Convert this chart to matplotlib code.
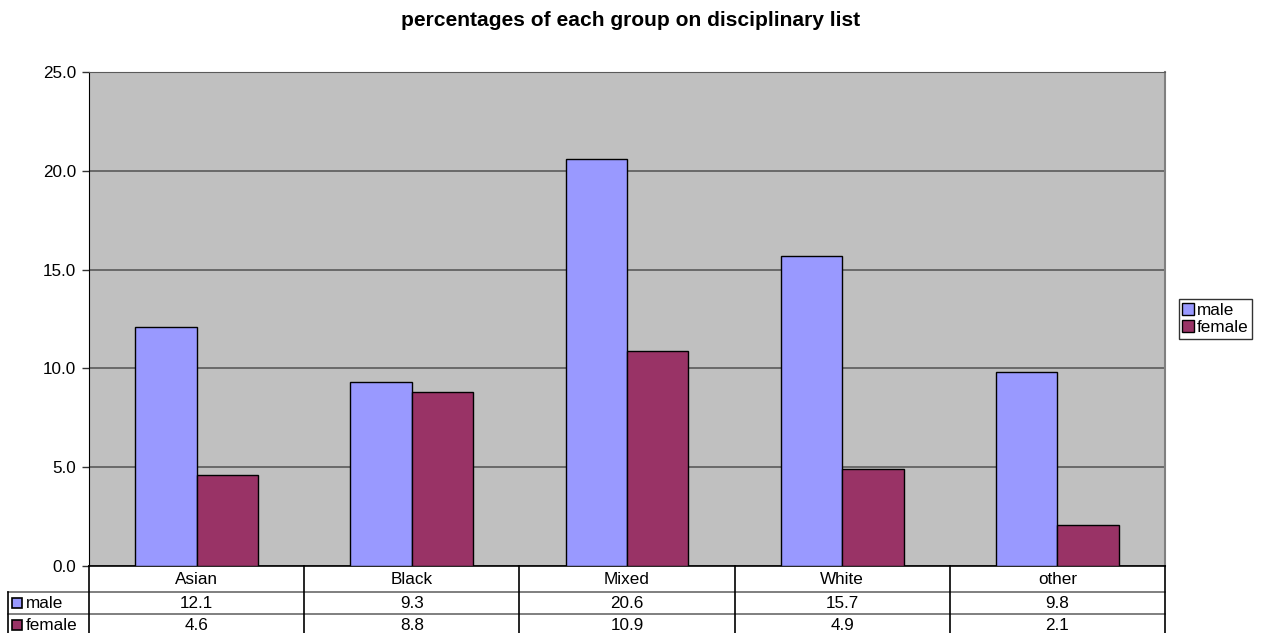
import numpy as np
import matplotlib.pyplot as plt
from matplotlib.patches import Rectangle

plt.rcParams['font.family'] = ['Liberation Sans', 'DejaVu Sans']

groups = ["Asian", "Black", "Mixed", "White", "other"]
male = [12.1, 9.3, 20.6, 15.7, 9.8]
female = [4.6, 8.8, 10.9, 4.9, 2.1]
series = ["male", "female"]
colours = ["#9999FF", "#993366"]

W, H = 1263, 633
fs = 12.3
fig = plt.figure(figsize=(W / 100, H / 100), dpi=100)

# plot area in pixel coords: x 89..1165, y 72..566
ax = fig.add_axes([89 / W, 1 - 566 / H, (1165 - 89) / W, (566 - 72) / H])
ax.set_facecolor("#C0C0C0")
x = np.arange(len(groups))
bw = 0.285
ax.bar(x - bw / 2, male, bw, color=colours[0], edgecolor="black", linewidth=1, zorder=3, label="male")
ax.bar(x + bw / 2, female, bw, color=colours[1], edgecolor="black", linewidth=1, zorder=3, label="female")
ax.set_xlim(-0.5, len(groups) - 0.5)
ax.set_ylim(0, 25)
ax.set_yticks(np.arange(0, 26, 5))
ax.set_yticklabels(["%.1f" % v for v in np.arange(0, 26, 5)], fontsize=fs)
ax.set_xticks([])
ax.yaxis.grid(True, color="#5a5a5a", linewidth=1.2, zorder=1)
ax.set_axisbelow(True)
ax.tick_params(axis="y", length=5, width=1, color="#333333", pad=4)
ax.spines["left"].set_color("black")
ax.spines["bottom"].set_color("black")
ax.spines["bottom"].set_linewidth(1.2)
ax.spines["top"].set_color("#5a5a5a")
ax.spines["right"].set_color("#808080")
ax.spines["right"].set_linewidth(1.5)

fig.text(631 / W, 1 - 20 / H, "percentages of each group on disciplinary list",
         ha="center", va="center", fontsize=15.1, fontweight="bold")

# legend box
leg = ax.legend(loc="center left", bbox_to_anchor=(1179 / W, 1 - 319 / H), bbox_transform=fig.transFigure,
                fontsize=fs, frameon=True, fancybox=False, edgecolor="black", borderpad=0.2,
                handlelength=0.7, handleheight=0.7, handletextpad=0.15, labelspacing=0.15,
                borderaxespad=0)
leg.get_frame().set_linewidth(1)
for p in leg.get_patches():
    p.set_linewidth(1)

# data table under the plot, in pixel coords
tab = fig.add_axes([0, 0, 1, 1], facecolor="none")
tab.set_xlim(0, W)
tab.set_ylim(H, 0)
tab.axis("off")
x0, x1 = 89, 1165
cw = (x1 - x0) / len(groups)
rows_y = [566, 592, 614, 636]
tab.plot([8, x1], [592, 592], color="#6a6a6a", lw=1.2)
tab.plot([8, x1], [614, 614], color="#6a6a6a", lw=1.2)
tab.plot([8, 8], [592, 640], color="black", lw=1.2)
tab.plot([x1, x1], [566, 640], color="black", lw=1.2)
for i in range(len(groups)):
    tab.plot([x0 + i * cw] * 2, [566, 640], color="black", lw=1.2)
    cx = x0 + (i + 0.5) * cw
    tab.text(cx, 579, groups[i], ha="center", va="center", fontsize=fs)
    tab.text(cx, 603, "%.1f" % male[i], ha="center", va="center", fontsize=fs)
    tab.text(cx, 626, "%.1f" % female[i], ha="center", va="center", fontsize=fs)
for j, (name, c) in enumerate(zip(series, colours)):
    yc = (rows_y[j + 1] + rows_y[j + 2]) / 2
    tab.add_patch(Rectangle((12, yc - 5), 10, 10, facecolor=c, edgecolor="black", lw=1.2))
    tab.text(26, yc + 1, name, ha="left", va="center", fontsize=fs)

fig.savefig("out.png", dpi=100)
